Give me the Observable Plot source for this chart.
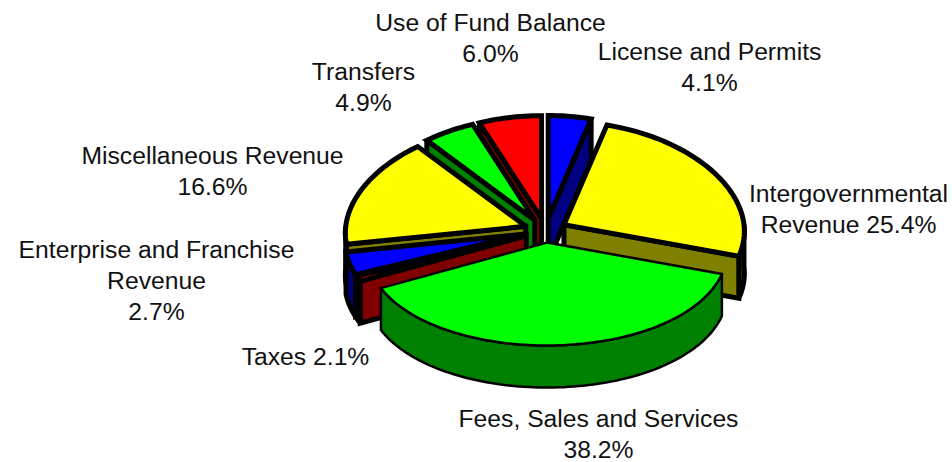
<!DOCTYPE html>
<html>
<head>
<meta charset="utf-8">
<script src="https://cdn.jsdelivr.net/npm/d3@7"></script>
<script src="https://cdn.jsdelivr.net/npm/@observablehq/plot@0.6"></script>
<style>
html,body{margin:0;padding:0;background:#fff}
svg{display:block}
</style>
</head>
<body>
<div id="chart"></div>
<script>
// Slices, clockwise from 12 o'clock
const categories = ["License and Permits","Intergovernmental Revenue","Fees, Sales and Services","Taxes","Enterprise and Franchise Revenue","Miscellaneous Revenue","Transfers","Use of Fund Balance"];
// Printed percentages
const printedShares = [4.1, 25.4, 38.2, 2.1, 2.7, 16.6, 4.9, 6.0];
const drawnShares = [4.1, 25.85, 37.75, 0.85, 3.65, 16.9, 4.9, 6.0];
const topColors = ["#0000ff","#ffff00","#00ff00","#ff0000","#0000ff","#ffff00","#00ff00","#ff0000"];
const wallColors = ["#000080","#808000","#008000","#800000","#000080","#808000","#008000","#800000"];
const paintOrder = [7,0,6,5,1,4,3,2];

const labelHeads = ["License and Permits\n","Intergovernmental\nRevenue ","Fees, Sales and Services\n","Taxes ","Enterprise and Franchise\nRevenue\n","Miscellaneous Revenue\n","Transfers\n","Use of Fund Balance\n"];
const labelX = [709, 848, 598, 305, 156, 212, 363, 490];
const labelY = [65, 207, 432, 355, 278.5, 169, 85, 36];

// Pie geometry: perspective narrows the ellipse toward the back
const cx = 545, cy = 230, rx = 180, ry = 103, depth = 42, burst = 0.117, perspective = 0.066;
const rad = a => a * Math.PI / 180;
const total = d3.sum(drawnShares);
let acc = 0;
const slices = drawnShares.map((s, i) => {
  const a0 = acc / total * 360; acc += s;
  const a1 = acc / total * 360;
  const m = (a0 + a1) / 2;
  return {i, a0, a1, ox: cx + burst * rx * Math.sin(rad(m)), oy: cy - burst * ry * Math.cos(rad(m))};
});
const rim = (s, a, dz = 0) => ({
  x: s.ox + rx * (1 - perspective * Math.cos(rad(a))) * Math.sin(rad(a)),
  y: s.oy - ry * Math.cos(rad(a)) + dz
});
const arc = (s, a0, a1, dz = 0) => {
  const n = Math.max(2, Math.ceil((a1 - a0) / 1.5));
  return d3.range(n + 1).map(k => rim(s, a0 + (a1 - a0) * k / n, dz));
};
const faces = [];
let fid = 0;
const addFace = (pts, color, sliceIndex) => {
  const id = fid++;
  pts.forEach(p => faces.push({...p, id, color, sliceIndex}));
};
for (const i of paintOrder) {
  const s = slices[i];
  const apex = {x: s.ox, y: s.oy}, apexLow = {x: s.ox, y: s.oy + depth};
  // front-facing outer wall
  const f0 = Math.max(s.a0, 90), f1 = Math.min(s.a1, 270);
  if (f1 > f0) addFace([...arc(s, f0, f1), ...arc(s, f0, f1, depth).reverse()], wallColors[i], i);
  // front-facing radial cuts
  if (Math.sin(rad(s.a0)) < -1e-6) addFace([apex, rim(s, s.a0), rim(s, s.a0, depth), apexLow], wallColors[i], i);
  if (Math.sin(rad(s.a1)) > 1e-6) addFace([apex, rim(s, s.a1), rim(s, s.a1, depth), apexLow], wallColors[i], i);
  // top surface
  addFace([apex, ...arc(s, s.a0, s.a1)], topColors[i], i);
}
const FEES = 2;
const faceMark = (data, w) => Plot.line(data, {
  x: "x", y: "y", z: "id", fill: "color", stroke: "#000", strokeWidth: w,
  curve: "linear-closed", strokeLinejoin: "miter", strokeLinecap: "butt", strokeMiterlimit: 2.2
});
const labels = labelHeads.map((head, i) => ({text: head + printedShares[i].toFixed(1) + "%", x: labelX[i], y: labelY[i]}));

const plot = Plot.plot({
  width: 952, height: 462,
  margin: 0,
  x: {domain: [0, 952], range: [0, 952], axis: null},
  y: {domain: [0, 462], range: [0, 462], axis: null},
  color: {type: "identity"},
  style: {background: "#fff"},
  marks: [
    faceMark(faces.filter(d => d.sliceIndex !== FEES), 5),
    faceMark(faces.filter(d => d.sliceIndex === FEES), 2.5),
    Plot.text(labels, {
      x: "x", y: "y", text: "text", fontSize: 24.7, lineHeight: 1.255,
      fontFamily: "Liberation Sans", fill: "#111", textAnchor: "middle"
    })
  ]
});
document.getElementById("chart").append(plot);
</script>
</body>
</html>
